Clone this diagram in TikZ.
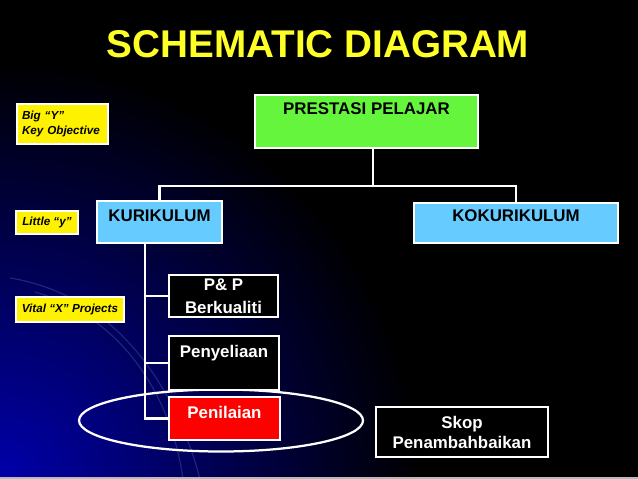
\documentclass[tikz,border=0pt]{standalone}
\usepackage{fontspec}
\setmainfont{Liberation Sans}
\usetikzlibrary{positioning}
\newlength\unitpx
\setlength\unitpx{0.025cm}
\definecolor{titleyellow}{RGB}{255,255,40}
\definecolor{goalgreen}{RGB}{100,245,60}
\definecolor{skyblue}{RGB}{102,204,255}
\definecolor{glowblue}{RGB}{0,0,170}
\definecolor{swoosh}{RGB}{30,40,120}
\tikzstyle{box}=[draw=white,line width=1.2pt,inner sep=0pt,align=center,
  font=\bfseries\fontsize{12}{14}\selectfont]
\tikzstyle{keybox}=[box,fill=yellow,text=black,align=left,inner xsep=5\unitpx,
  font=\bfseries\itshape\fontsize{8.3}{10.7}\selectfont]
\tikzstyle{link}=[draw=white,line width=1.7pt]

\begin{document}
\begin{tikzpicture}[x=0.025cm, y=-0.025cm]
  % background
  \fill[black] (0,0) rectangle (638,479);
  \begin{scope}
    \clip (0,0) rectangle (638,479);
    \shade[inner color=glowblue, outer color=black] (0,479) circle (420);
    \draw[swoosh, line width=0.8pt] (10,278) .. controls (115,295) and (175,385) .. (200,479);
    \draw[swoosh, line width=0.8pt] (35,292) .. controls (125,318) and (172,400) .. (183,479);
  \end{scope}
  \fill[gray!55] (0,477) rectangle (638,479);

  \node[text=titleyellow, font=\bfseries\fontsize{27.5}{30}\selectfont] (title) at (318,44) {SCHEMATIC DIAGRAM};

  % key labels
  \node[keybox, text width=81\unitpx, minimum height=40\unitpx] (bigy) at (62.5,124) {Big “Y”\\Key Objective};
  \node[keybox, minimum width=62\unitpx, minimum height=23\unitpx, inner xsep=0pt] (littley) at (47,222.5) {Little “y”};
  \node[keybox, minimum width=108\unitpx, minimum height=25\unitpx, inner xsep=0pt] (vitalx) at (70,309.5) {Vital “X” Projects};

  % the tree
  \draw[white, line width=1.6pt] (221,420.5) ellipse [x radius=142, y radius=31];

  \node[box, fill=goalgreen, minimum width=223\unitpx, text height=20\unitpx, text depth=33\unitpx] (prestasi) at (366.5,121.5) {PRESTASI PELAJAR};
  \node[box, fill=skyblue, minimum width=125\unitpx, text height=20\unitpx, text depth=22\unitpx] (kurikulum) at (159.5,222) {KURIKULUM};
  \node[box, fill=skyblue, minimum width=204\unitpx, text height=18\unitpx, text depth=22\unitpx] (kokurikulum) at (516,223) {KOKURIKULUM};

  \node[box, fill=black, text=white, minimum width=109\unitpx, minimum height=42\unitpx,
    font=\bfseries\fontsize{12}{16}\selectfont] (pnp) at (223.5,296) {P\& P\\Berkualiti};
  \node[box, fill=black, text=white, minimum width=110\unitpx, text height=21\unitpx, text depth=33\unitpx] (penyeliaan) at (224,363) {Penyeliaan};
  \node[box, fill=red, text=white, minimum width=111\unitpx, text height=21\unitpx, text depth=22\unitpx] (penilaian) at (224.5,418.5) {Penilaian};

  \node[box, fill=black, text=white, minimum width=172\unitpx, minimum height=50\unitpx,
    font=\bfseries\fontsize{12}{14.2}\selectfont] (skop) at (462,432) {Skop\\Penambahbaikan};

  \coordinate (fork) at (373,186);
  \coordinate (trunk) at (145,243);
  \draw[link] (prestasi.south -| fork) -- (fork);
  \draw[link] (kurikulum.north) |- (fork) -| (kokurikulum.north);
  \draw[link] (trunk) |- (penilaian.west);
  \draw[link] (trunk |- pnp.west) -- (pnp.west);
  \draw[link] (trunk |- penyeliaan.west) -- (penyeliaan.west);
\end{tikzpicture}
\end{document}
